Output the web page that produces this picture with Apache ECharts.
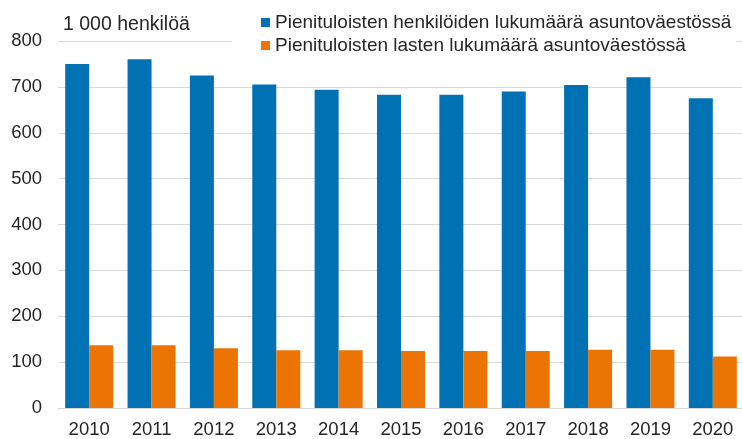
<!DOCTYPE html>
<html>
<head>
<meta charset="utf-8">
<script src="https://cdn.jsdelivr.net/npm/echarts@6/dist/echarts.min.js"></script>
<style>
  html, body { margin: 0; padding: 0; background: #fff; }
  #chart { width: 742px; height: 439px; }
</style>
</head>
<body>
<div id="chart"></div>
<script>
// vuodet ja arvot (1 000 henkilöä)
var years = ['2010', '2011', '2012', '2013', '2014', '2015', '2016', '2017', '2018', '2019', '2020'];
var henkilot = [750, 760, 725, 705, 694, 683, 683, 690, 704, 721, 675];
var lapset = [137, 137, 130, 126, 126, 124, 124, 124, 127, 127, 112];
var seriesNames = ['Pienituloisten henkilöiden lukumäärä asuntoväestössä', 'Pienituloisten lasten lukumäärä asuntoväestössä'];
var unitLabel = '1 000 henkilöä';

var colors = ['#0071b2', '#ec7404'];
var font = 'Liberation Sans, Arial, sans-serif';
var fs = 18.5;

var myChart = echarts.init(document.getElementById('chart'));

var option = {
  color: colors,
  animation: false,
  textStyle: { fontFamily: font, color: '#262626' },
  title: {
    text: unitLabel,
    left: 63,
    top: 15,
    padding: 0,
    textStyle: { fontFamily: font, fontSize: 19.5, fontWeight: 'normal', color: '#262626' }
  },
  legend: {
    orient: 'vertical',
    left: 232,
    top: 10,
    padding: [3, 5, 3, 29],
    backgroundColor: '#fff',
    itemWidth: 9,
    itemHeight: 9,
    itemGap: 4,
    icon: 'rect',
    data: seriesNames,
    textStyle: { fontFamily: font, fontSize: 19, lineHeight: 19, color: '#262626' }
  },
  grid: {
    left: 58,
    width: 686,
    top: 41,
    bottom: 31,
    outerBoundsMode: 'none',
    containLabel: false
  },
  xAxis: {
    type: 'category',
    data: years,
    axisTick: { show: false },
    axisLine: { show: true, lineStyle: { color: '#d9d9d9', width: 1 } },
    axisLabel: { margin: 12, fontSize: fs, color: '#262626', fontFamily: font }
  },
  yAxis: {
    type: 'value',
    min: 0,
    max: 800,
    interval: 100,
    axisLine: { show: false },
    axisTick: { show: false },
    splitLine: { lineStyle: { color: '#d9d9d9', width: 1 } },
    axisLabel: { margin: 16, fontSize: fs, color: '#262626', fontFamily: font }
  },
  series: [
    {
      name: seriesNames[0],
      type: 'bar',
      barWidth: 24,
      barGap: '0%',
      data: henkilot
    },
    {
      name: seriesNames[1],
      type: 'bar',
      barWidth: 24,
      barGap: '0%',
      data: lapset
    }
  ]
};

myChart.setOption(option);
</script>
</body>
</html>
